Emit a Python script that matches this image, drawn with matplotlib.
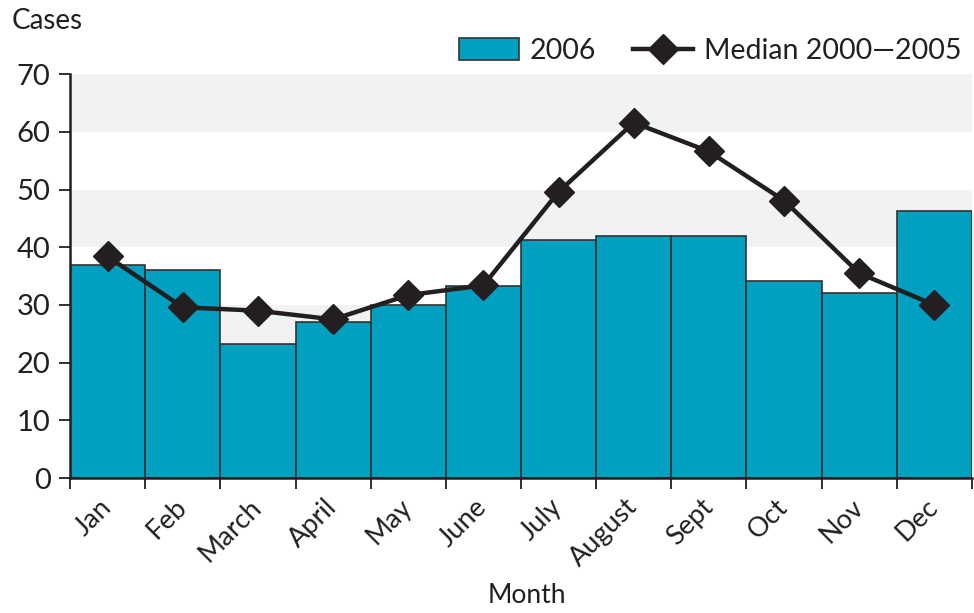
import numpy as np
import matplotlib.pyplot as plt
from matplotlib.transforms import ScaledTranslation

months = ['Jan', 'Feb', 'March', 'April', 'May', 'June', 'July', 'August',
          'Sept', 'Oct', 'Nov', 'Dec']
cases_2006 = [37, 36, 23.2, 27, 30, 33.2, 41.2, 42, 42, 34.2, 32, 46.2]
median_00_05 = [38.4, 29.6, 29, 27.5, 31.7, 33.4, 49.6, 61.6, 56.6, 48.1, 35.5, 30]

plt.rcParams['font.family'] = ['Lato', 'DejaVu Sans']
text_color = '#231f20'
bar_color = '#02a0c0'

fig = plt.figure(figsize=(9.74, 6.13), dpi=100)
ax = fig.add_axes([0.0719, 0.2202, 0.926, 0.6588])

x = np.arange(len(months))

# alternating grey bands behind the bars
for lo in (20, 40, 60):
    ax.axhspan(lo, lo + 10, color='#f1f2f4', zorder=0, lw=0)

bars = ax.bar(x, cases_2006, width=1.0, color=bar_color, edgecolor='#333333',
              linewidth=1.2, zorder=2, label='2006')
line, = ax.plot(x, median_00_05, color=text_color, lw=3.2, marker='D', ms=15,
                zorder=3, label='Median 2000\u20142005')

ax.set_xlim(-0.5, len(months) - 0.5)
ax.set_ylim(0, 70)
ax.set_yticks(range(0, 71, 10))
ax.set_xticks(np.arange(-0.5, len(months), 1.0))
ax.set_xticklabels([])
ax.set_xticks(x, minor=True)
ax.set_xticklabels(months, minor=True, rotation=45, ha='right', va='center',
                   rotation_mode='anchor', fontsize=19.5, color=text_color)
shift = ScaledTranslation(14 / 72, 0, fig.dpi_scale_trans)
for lab in ax.get_xticklabels(minor=True):
    lab.set_transform(lab.get_transform() + shift)
ax.tick_params(axis='x', which='minor', length=0, pad=18)
ax.tick_params(axis='x', which='major', length=8, width=1.3, color=text_color,
               direction='out')
ax.tick_params(axis='y', length=8, width=1.3, color=text_color, labelsize=21,
               labelcolor=text_color, pad=6)

for side in ('top', 'right'):
    ax.spines[side].set_visible(False)
for side in ('left', 'bottom'):
    ax.spines[side].set_linewidth(1.8)
    ax.spines[side].set_color(text_color)
    ax.spines[side].set_zorder(4)

fig.text(0.012, 0.965, 'Cases', fontsize=20, color=text_color, va='center')
fig.text(0.541, 0.028, 'Month', fontsize=19, color=text_color,
         ha='center', va='center')

leg = ax.legend([bars, line], ['2006', 'Median 2000\u20142005'],
                loc='lower right', bbox_to_anchor=(1.0, 1.0), ncol=2,
                frameon=False, fontsize=20.5, handlelength=2.1,
                handleheight=0.8, columnspacing=1.3, handletextpad=0.4,
                borderaxespad=0.1, borderpad=0.25)
for t in leg.get_texts():
    t.set_color(text_color)

fig.savefig('out.png', dpi=100)
